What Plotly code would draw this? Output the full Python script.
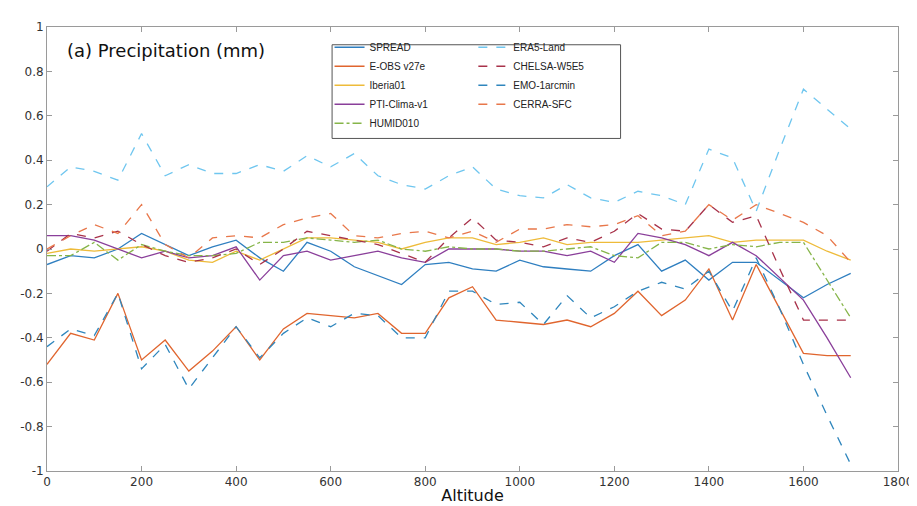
import plotly.graph_objects as go

altitude = [0, 50, 100, 150, 200, 250, 300, 350, 400, 450, 500, 550, 600, 650, 700, 750, 800, 850,
            900, 950, 1000, 1050, 1100, 1150, 1200, 1250, 1300, 1350, 1400, 1450, 1500, 1550, 1600, 1650, 1700]

spread = [-0.07, -0.03, -0.04, 0.0, 0.07, 0.02, -0.03, 0.01, 0.04, -0.04, -0.10, 0.03, -0.01, -0.08, -0.12,
          -0.16, -0.07, -0.06, -0.09, -0.10, -0.05, -0.08, -0.09, -0.10, -0.03, 0.02, -0.10, -0.05, -0.14,
          -0.06, -0.06, -0.14, -0.22, -0.16, -0.11]
eobs = [-0.52, -0.38, -0.41, -0.20, -0.50, -0.41, -0.55, -0.46, -0.35, -0.50, -0.36, -0.29, -0.30, -0.31,
        -0.29, -0.38, -0.38, -0.22, -0.17, -0.32, -0.33, -0.34, -0.32, -0.35, -0.29, -0.19, -0.30, -0.23,
        -0.09, -0.32, -0.07, -0.27, -0.47, -0.48, -0.48]
iberia = [-0.02, 0.0, -0.01, 0.0, 0.01, -0.01, -0.05, -0.06, -0.01, -0.05, 0.0, 0.05, 0.05, 0.04, 0.03,
          0.0, 0.03, 0.05, 0.05, 0.02, 0.03, 0.05, 0.02, 0.03, 0.03, 0.03, 0.04, 0.05, 0.06, 0.03, 0.04,
          0.04, 0.04, -0.01, -0.05]
pti = [0.06, 0.06, 0.04, 0.0, -0.04, -0.01, -0.04, -0.03, 0.01, -0.14, -0.03, -0.01, -0.05, -0.03, -0.01,
       -0.04, -0.06, 0.0, 0.0, 0.0, -0.01, -0.01, -0.03, -0.01, -0.06, 0.07, 0.05, 0.02, -0.03, 0.03,
       -0.03, -0.13, -0.23, -0.40, -0.58]
humid = [-0.03, -0.03, 0.03, -0.05, 0.02, -0.01, -0.03, -0.03, -0.02, 0.03, 0.03, 0.05, 0.04, 0.03, 0.04,
         0.0, -0.01, 0.01, 0.0, 0.0, -0.01, -0.01, 0.0, 0.01, -0.03, -0.04, 0.03, 0.03, 0.0, 0.02, 0.01,
         0.03, 0.03, -0.14, -0.31]
era5 = [0.28, 0.37, 0.35, 0.31, 0.52, 0.33, 0.38, 0.34, 0.34, 0.38, 0.35, 0.42, 0.37, 0.43, 0.33, 0.29,
        0.27, 0.33, 0.37, 0.27, 0.24, 0.23, 0.29, 0.23, 0.21, 0.26, 0.24, 0.20, 0.45, 0.41, 0.17, 0.45,
        0.72, 0.63, 0.54]
chelsa = [-0.01, 0.07, 0.05, 0.08, 0.02, -0.03, -0.06, -0.04, 0.0, -0.07, 0.0, 0.08, 0.06, 0.04, 0.02,
          -0.02, -0.06, 0.05, 0.14, 0.04, 0.03, 0.01, 0.05, 0.03, 0.08, 0.16, 0.09, 0.08, 0.20, 0.12, 0.15,
          -0.09, -0.32, -0.32, -0.32]
emo = [-0.44, -0.36, -0.39, -0.20, -0.54, -0.43, -0.63, -0.49, -0.35, -0.49, -0.38, -0.31, -0.35, -0.29,
       -0.30, -0.40, -0.40, -0.19, -0.19, -0.25, -0.24, -0.34, -0.21, -0.31, -0.26, -0.19, -0.15, -0.18,
       -0.10, -0.28, -0.04, -0.27, -0.52, -0.75, -0.97]
cerra = [0.0, 0.06, 0.11, 0.07, 0.20, 0.02, -0.04, 0.05, 0.06, 0.05, 0.11, 0.14, 0.16, 0.06, 0.05, 0.07,
         0.08, 0.05, 0.08, 0.03, 0.09, 0.09, 0.11, 0.10, 0.11, 0.15, 0.06, 0.08, 0.20, 0.13, 0.20, 0.16,
         0.12, 0.06, -0.06]

x_ticks = [0, 200, 400, 600, 800, 1000, 1200, 1400, 1600, 1800]
y_ticks = [-1, -0.8, -0.6, -0.4, -0.2, 0, 0.2, 0.4, 0.6, 0.8, 1]
y_tick_labels = ["-1", "-0.8", "-0.6", "-0.4", "-0.2", "0", "0.2", "0.4", "0.6", "0.8", "1"]

series = [
    ("SPREAD", spread, "#2f7fc0", "solid", "legend"),
    ("E-OBS v27e", eobs, "#e0652e", "solid", "legend"),
    ("Iberia01", iberia, "#eebb3a", "solid", "legend"),
    ("PTI-Clima-v1", pti, "#8a3f9a", "solid", "legend"),
    ("HUMID010", humid, "#86b549", "dashdot", "legend"),
    ("ERA5-Land", era5, "#6fc6ef", "dash", "legend2"),
    ("CHELSA-W5E5", chelsa, "#a8324a", "dash", "legend2"),
    ("EMO-1arcmin", emo, "#2f86bd", "dash", "legend2"),
    ("CERRA-SFC", cerra, "#e8774a", "dash", "legend2"),
]

fig = go.Figure()
for name, vals, color, dash, leg in series:
    fig.add_trace(go.Scatter(
        x=altitude, y=vals, mode="lines", name=name,
        line=dict(color=color, width=1.3, dash=dash),
        legend=leg,
    ))

axis_common = dict(
    showgrid=False, zeroline=False, showline=True, linecolor="#9a9a9a", linewidth=1,
    mirror="ticks", ticks="inside", ticklen=5, tickcolor="#9a9a9a",
    tickfont=dict(family="DejaVu Sans", size=12, color="#333333"),
)

legend_font = dict(family="Liberation Sans", size=10, color="#222222")

fig.update_layout(
    width=917, height=506,
    margin=dict(l=39, r=18, t=19, b=36),
    paper_bgcolor="white", plot_bgcolor="white",
    xaxis=dict(range=[0, 1800], tickvals=x_ticks,
               title=dict(text="Altitude", font=dict(family="DejaVu Sans", size=16, color="#111111"),
                          standoff=1),
               **axis_common),
    yaxis=dict(range=[-1, 1], tickvals=y_ticks, ticktext=y_tick_labels, **axis_common),
    legend=dict(x=0.332, y=0.987, xanchor="left", yanchor="top", bgcolor="rgba(0,0,0,0)",
                font=legend_font, tracegroupgap=0, itemwidth=30),
    legend2=dict(x=0.501, y=0.987, xanchor="left", yanchor="top", bgcolor="rgba(0,0,0,0)",
                 font=legend_font, tracegroupgap=0, itemwidth=30),
    showlegend=True,
    shapes=[dict(type="rect", xref="paper", yref="paper", x0=0.335, x1=0.674, y0=0.749, y1=0.960,
                 line=dict(color="#555555", width=1), fillcolor="rgba(0,0,0,0)")],
    annotations=[dict(text="(a) Precipitation (mm)", xref="paper", yref="paper", x=0.021, y=0.947,
                      xanchor="left", yanchor="middle", showarrow=False,
                      font=dict(family="DejaVu Sans", size=18, color="#111111"))],
)

fig.write_html("out.html")
